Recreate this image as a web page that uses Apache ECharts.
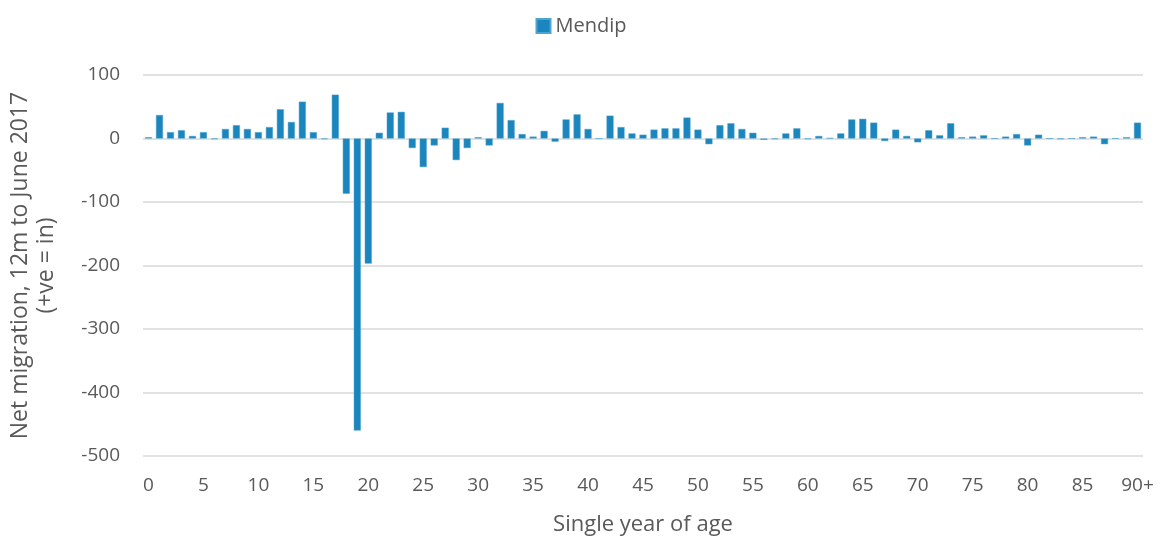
<!DOCTYPE html>
<html>
<head>
<meta charset="utf-8">
<script src="https://cdn.jsdelivr.net/npm/echarts@6/dist/echarts.min.js"></script>
<style>
  html, body { margin: 0; padding: 0; background: #fff; }
  #chart { width: 1162px; height: 538px; }
</style>
</head>
<body>
<div id="chart"></div>
<script>
    // single year of age, 0..89 plus 90+
    const ages = []
    for (let i = 0; i < 90; i++) ages.push(String(i))
    ages.push('90+')

    const mendip = [
        2, 37, 10, 13, 4, 10, -1, 15, 21, 15,
        10, 18, 46, 26, 58, 10, -1, 69, -87, -460,
        -197, 9, 41, 42, -15, -45, -11, 17, -34, -15,
        2, -11, 56, 29, 7, 3, 12, -5, 30, 38,
        15, 0, 36, 18, 8, 6, 14, 16, 16, 33,
        14, -9, 21, 24, 15, 9, -2, -1, 8, 16,
        -1, 4, 1, 8, 30, 31, 25, -4, 14, 4,
        -6, 13, 5, 24, 2, 3, 5, 0, 3, 7,
        -11, 6, 0, -1, 0, 2, 3, -9, 0, 2,
        25
    ]

    const font = 'Open Sans, Noto Sans, sans-serif'
    const chart = echarts.init(document.getElementById('chart'))
    chart.setOption({
        animation: false,
        textStyle: {fontFamily: font},
        legend: {
            top: 11,
            left: 'center',
            itemWidth: 14,
            itemHeight: 14,
            itemGap: 6,
            icon: 'rect',
            textStyle: {fontSize: 20, color: '#595959', fontFamily: font},
            data: ['Mendip']
        },
        grid: {left: 143, right: 19, top: 75, bottom: 82, outerBoundsMode: 'none', containLabel: false},
        xAxis: {
            type: 'category',
            data: ages,
            name: 'Single year of age',
            nameLocation: 'middle',
            nameGap: 58,
            nameTextStyle: {fontSize: 22, color: '#595959'},
            axisLine: {show: false},
            axisTick: {show: false},
            axisLabel: {interval: 4, fontSize: 19, color: '#595959', margin: 20}
        },
        yAxis: {
            type: 'value',
            min: -500,
            max: 100,
            interval: 100,
            name: 'Net migration, 12m to June 2017\n(+ve = in)',
            nameLocation: 'middle',
            nameRotate: 90,
            nameGap: 84,
            nameTextStyle: {fontSize: 23, color: '#595959', lineHeight: 26},
            axisLine: {show: false},
            axisTick: {show: false},
            axisLabel: {fontSize: 19, color: '#595959', margin: 23},
            splitLine: {lineStyle: {color: '#d9d9d9', width: 1.5}}
        },
        series: [{
            name: 'Mendip',
            type: 'bar',
            data: mendip,
            barCategoryGap: '36%',
            itemStyle: {color: '#1a86bd', borderColor: '#4fa3cf', borderWidth: 0.5}
        }]
    })
</script>
</body>
</html>
